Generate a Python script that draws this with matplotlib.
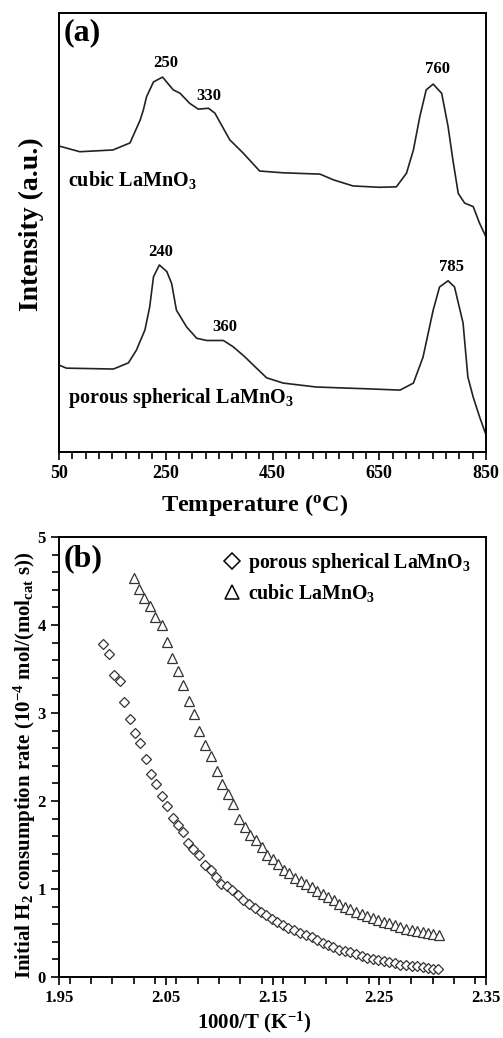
import matplotlib
matplotlib.use("Agg")
import matplotlib.pyplot as plt
from matplotlib.ticker import MultipleLocator, FixedLocator
from matplotlib.lines import Line2D

plt.rcParams['font.family'] = ['Liberation Serif', 'DejaVu Serif']
plt.rcParams['font.weight'] = 'bold'
plt.rcParams['mathtext.fontset'] = 'custom'
plt.rcParams['mathtext.rm'] = 'Liberation Serif:bold'
plt.rcParams['mathtext.it'] = 'Liberation Serif:bold:italic'
plt.rcParams['mathtext.bf'] = 'Liberation Serif:bold'

# ---------------- Panel (a): H2-TPR profiles (intensity, a.u.) ----------------
cubic_T = [50, 89, 151, 183, 202, 208, 214, 227, 244, 264, 277, 295, 311, 330, 342, 370, 395,
           426, 470, 539, 564, 601, 651, 682, 701, 714, 726, 738, 751, 767, 779, 788, 798,
           810, 826, 838, 850]
cubic_I = [69.7, 68.4, 68.8, 70.4, 75.6, 77.9, 80.9, 84.3, 85.4, 82.5, 81.7, 79.4, 78.1, 78.3,
           77.2, 71.1, 68.1, 64.0, 63.6, 63.3, 62.0, 60.6, 60.3, 60.4, 63.5, 68.8, 76.4, 82.5,
           83.8, 81.7, 74.1, 66.5, 58.9, 56.7, 55.9, 52.1, 49.0]

porous_T = [50, 64, 152, 180, 195, 211, 220, 227, 238, 252, 261, 270, 289, 308, 327, 358, 376,
            398, 414, 439, 470, 532, 626, 689, 714, 732, 751, 763, 779, 791, 807, 816, 826,
            838, 850]
porous_I = [19.8, 19.1, 18.9, 20.3, 23.2, 27.8, 33.1, 39.9, 42.6, 41.1, 38.4, 32.3, 28.5, 25.9,
            25.4, 25.4, 24.0, 21.7, 19.8, 16.9, 15.7, 14.8, 14.4, 14.1, 15.7, 21.6, 32.3, 37.6,
            39.0, 37.6, 29.4, 17.1, 12.5, 8.0, 3.9]

peak_labels_cubic = [("250", 250, 88.6), ("330", 330, 81.0), ("760", 760, 87.2)]
peak_labels_porous = [("240", 240, 45.5), ("360", 360, 28.5), ("785", 785, 42.1)]

# ---------------- Panel (b): initial H2 consumption rate ----------------
porous_x = [1.9915, 1.9968, 2.0018, 2.0071, 2.0112, 2.0165, 2.0212, 2.0259, 2.0312, 2.0359,
            2.0406, 2.0468, 2.0515, 2.0565, 2.0612, 2.0659, 2.0711, 2.0758, 2.0814, 2.0868,
            2.0921, 2.0971, 2.1015, 2.1071, 2.1124, 2.1174, 2.1227, 2.1280, 2.1336, 2.1389,
            2.1439, 2.1492, 2.1545, 2.1595, 2.1648, 2.1701, 2.1758, 2.1811, 2.1867, 2.1914,
            2.1970, 2.2023, 2.2070, 2.2126, 2.2179, 2.2226, 2.2283, 2.2336, 2.2383, 2.2439,
            2.2492, 2.2545, 2.2595, 2.2648, 2.2695, 2.2751, 2.2804, 2.2851, 2.2907, 2.2960,
            2.3007, 2.3053]
porous_y = [3.78, 3.67, 3.43, 3.36, 3.12, 2.93, 2.77, 2.66, 2.48, 2.31,
            2.19, 2.06, 1.94, 1.81, 1.73, 1.65, 1.52, 1.45, 1.39, 1.27,
            1.22, 1.14, 1.06, 1.03, 0.99, 0.93, 0.87, 0.83, 0.78, 0.74,
            0.70, 0.66, 0.62, 0.59, 0.56, 0.53, 0.50, 0.48, 0.45, 0.42,
            0.39, 0.36, 0.34, 0.31, 0.29, 0.28, 0.26, 0.24, 0.22, 0.20,
            0.19, 0.18, 0.17, 0.16, 0.14, 0.14, 0.13, 0.12, 0.11, 0.10,
            0.09, 0.09]

cubic_x = [2.0203, 2.0253, 2.0299, 2.0352, 2.0399, 2.0462, 2.0515, 2.0561, 2.0612, 2.0665,
           2.0718, 2.0768, 2.0815, 2.0868, 2.0921, 2.0977, 2.1024, 2.1080, 2.1133, 2.1189,
           2.1242, 2.1289, 2.1346, 2.1399, 2.1446, 2.1502, 2.1555, 2.1608, 2.1658, 2.1711,
           2.1764, 2.1814, 2.1867, 2.1914, 2.1970, 2.2023, 2.2076, 2.2126, 2.2179, 2.2226,
           2.2283, 2.2336, 2.2383, 2.2439, 2.2492, 2.2545, 2.2595, 2.2648, 2.2695, 2.2751,
           2.2804, 2.2857, 2.2907, 2.2960, 2.3007, 2.3060]
cubic_y = [4.53, 4.41, 4.31, 4.22, 4.09, 4.00, 3.81, 3.62, 3.48, 3.32,
           3.14, 2.99, 2.79, 2.64, 2.51, 2.34, 2.19, 2.08, 1.97, 1.80,
           1.71, 1.61, 1.56, 1.48, 1.39, 1.34, 1.28, 1.22, 1.18, 1.13,
           1.09, 1.06, 1.02, 0.98, 0.94, 0.91, 0.87, 0.83, 0.80, 0.77,
           0.74, 0.72, 0.69, 0.67, 0.65, 0.63, 0.61, 0.59, 0.57, 0.55,
           0.53, 0.52, 0.51, 0.50, 0.49, 0.48]

W, H = 503, 1038
fig = plt.figure(figsize=(W / 100, H / 100), dpi=100)

def box(x0, y0, x1, y1):
    return [x0 / W, 1 - y1 / H, (x1 - x0) / W, (y1 - y0) / H]

# ---------- (a) ----------
axa = fig.add_axes(box(59, 13, 486, 452))
axa.plot(cubic_T, cubic_I, color='#222222', lw=1.2, solid_joinstyle='round')
axa.plot(porous_T, porous_I, color='#222222', lw=1.2, solid_joinstyle='round')
axa.set_xlim(50, 850)
axa.set_ylim(0, 100)
axa.xaxis.set_major_locator(FixedLocator([50, 250, 450, 650, 850]))
axa.xaxis.set_minor_locator(MultipleLocator(25))
axa.set_yticks([])
axa.tick_params(axis='x', which='both', direction='out', labelsize=13, width=1.2)
axa.tick_params(axis='x', which='major', length=6)
axa.tick_params(axis='x', which='minor', length=5)
for s in axa.spines.values():
    s.set_linewidth(1.4)
axa.set_xlabel('Temperature ($^\\mathrm{o}$C)', fontsize=17.5, fontweight='bold')
axa.xaxis.set_label_coords(0.457, -0.09)
axa.set_ylabel('Intensity (a.u.)', fontsize=20, fontweight='bold')
axa.yaxis.set_label_coords(-0.036, 0.52)
axa.text(0.012, 0.955, '(a)', transform=axa.transAxes, fontsize=23, fontweight='bold', va='center', ha='left')
for lab, x, y in peak_labels_cubic + peak_labels_porous:
    axa.text(x, y, lab, fontsize=12, fontweight='bold', ha='center', va='center')
axa.text(66, 62, 'cubic LaMnO$_3$', fontsize=14.5, fontweight='bold', ha='left', va='center')
axa.text(66, 12.3, 'porous spherical LaMnO$_3$', fontsize=14.5, fontweight='bold', ha='left', va='center')

# ---------- (b) ----------
axb = fig.add_axes(box(59, 537, 486, 977))
axb.plot(porous_x, porous_y, linestyle='none', marker='D', ms=5, mfc='white', mec='#333333', mew=0.9,
         label='porous spherical LaMnO$_3$')
axb.plot(cubic_x, cubic_y, linestyle='none', marker='^', ms=7.5, mfc='white', mec='#333333', mew=0.9,
         label='cubic LaMnO$_3$')
axb.set_xlim(1.95, 2.35)
axb.set_ylim(0, 5)
axb.xaxis.set_major_locator(FixedLocator([1.95, 2.05, 2.15, 2.25, 2.35]))
axb.xaxis.set_minor_locator(MultipleLocator(0.02))
axb.yaxis.set_major_locator(MultipleLocator(1))
axb.yaxis.set_minor_locator(MultipleLocator(0.2))
axb.set_xticklabels(['1.95', '2.05', '2.15', '2.25', '2.35'])
axb.tick_params(axis='both', which='both', direction='out', labelsize=12, width=1.2)
axb.tick_params(axis='both', which='major', length=6)
axb.tick_params(axis='both', which='minor', length=5)
for s in axb.spines.values():
    s.set_linewidth(1.4)
axb.set_xlabel('1000/T (K$^{-1}$)', fontsize=15, fontweight='bold')
axb.xaxis.set_label_coords(0.457, -0.075)
axb.set_ylabel('Initial H$_2$ consumption rate (10$^{-4}$ mol/(mol$_\\mathrm{cat}$ s))',
               fontsize=15, fontweight='bold')
axb.yaxis.set_label_coords(-0.05, 0.48)
axb.text(0.012, 0.95, '(b)', transform=axb.transAxes, fontsize=23, fontweight='bold', va='center', ha='left')
handles = [Line2D([], [], linestyle='none', marker='D', ms=8, mfc='white', mec='black', mew=1.1),
           Line2D([], [], linestyle='none', marker='^', ms=10, mfc='white', mec='black', mew=1.1)]
axb.legend(handles, ['porous spherical LaMnO$_3$', 'cubic LaMnO$_3$'], loc='upper left',
           bbox_to_anchor=(0.35, 1.0), frameon=False, handlelength=1.0,
           handletextpad=0.3, labelspacing=0.35, borderaxespad=0.3,
           prop={'weight': 'bold', 'size': 14.3})

fig.savefig('out.png', dpi=100)
